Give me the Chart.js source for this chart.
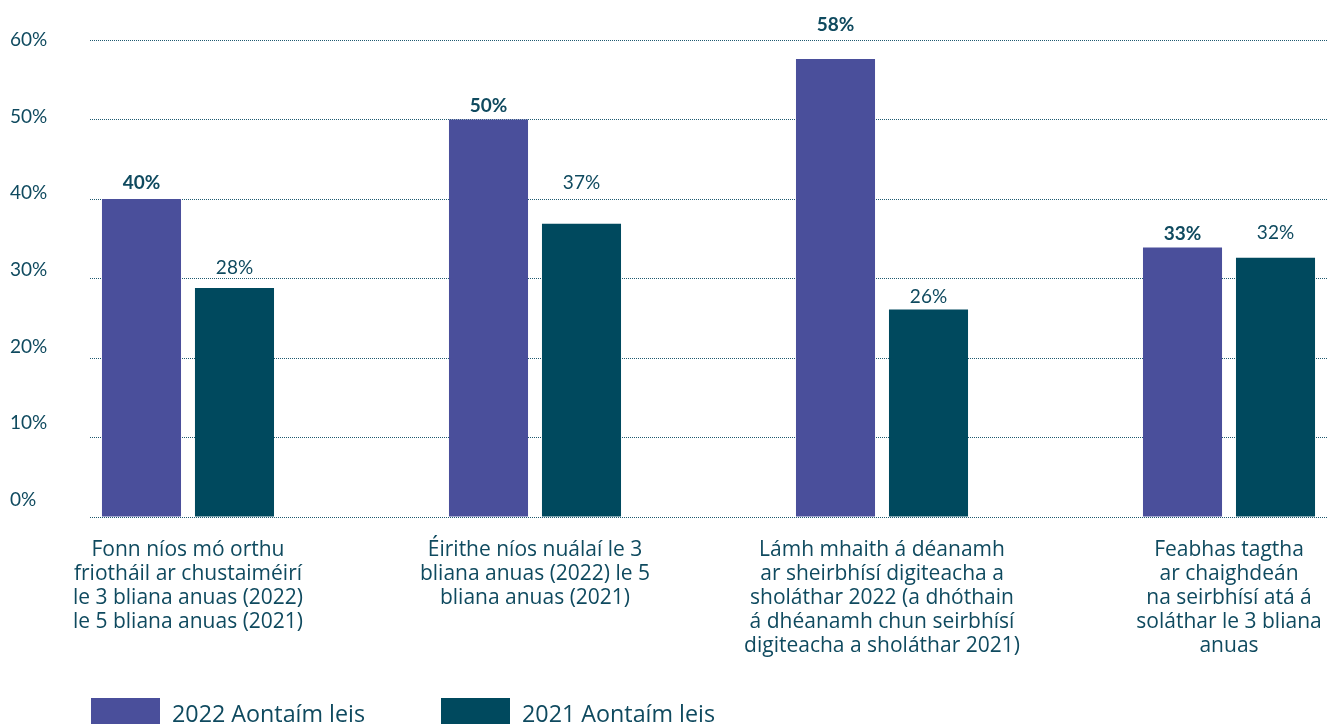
<!DOCTYPE html>
<html>
<head>
<meta charset="utf-8">
<script src="https://cdn.jsdelivr.net/npm/chart.js@4.4.1/dist/chart.umd.min.js"></script>
<style>
  html, body { margin: 0; padding: 0; background: #fff; overflow: hidden; }
  #wrap { position: relative; width: 1327px; height: 724px; }
  #legend { position: absolute; left: 91px; top: 698px; display: flex; font-family: "Open Sans", sans-serif; font-size: 23.3px; color: #0f4a5f; }
  #legend .item { display: flex; align-items: flex-start; }
  #legend .box { width: 69px; height: 30px; margin-right: 12px; }
  #legend .txt { line-height: 30px; }
</style>
</head>
<body>
<div id="wrap">
  <canvas id="myChart" width="1327" height="724"></canvas>
  <div id="legend"></div>
</div>
<script>
//the data
const categories = [
  ['Fonn níos mó orthu', 'friotháil ar chustaiméirí', 'le 3 bliana anuas (2022)', 'le 5 bliana anuas (2021)'],
  ['Éirithe níos nuálaí le 3', 'bliana anuas (2022) le 5', 'bliana anuas (2021)'],
  ['Lámh mhaith á déanamh', 'ar sheirbhísí digiteacha a', 'sholáthar 2022 (a dhóthain', 'á dhéanamh chun seirbhísí', 'digiteacha a sholáthar 2021)'],
  ['Feabhas tagtha', 'ar chaighdeán', 'na seirbhísí atá á', 'soláthar le 3 bliana', 'anuas']
]
const seriesNames = ['2022 Aontaím leis', '2021 Aontaím leis']
const values2022 = [40, 50, 57.6, 33.9]
const values2021 = [28.8, 36.9, 26.1, 32.6]
const labels2022 = ['40%', '50%', '58%', '33%']
const labels2021 = ['28%', '37%', '26%', '32%']
const yTicks = [0, 10, 20, 30, 40, 50, 60]

//colours and fonts
const purple = '#4a4f9b'
const teal = '#00495e'
const textColor = '#0f4a5f'
const numFont = 'Lato, sans-serif'
const textFont = '"Open Sans", sans-serif'

const ctx = document.getElementById('myChart').getContext('2d')

//labels above the bars
const barLabels = {
  id: 'barLabels',
  afterDatasetsDraw(chart, args, opts) {
    const c = chart.ctx
    c.save()
    c.textAlign = 'center'
    c.textBaseline = 'middle'
    c.fillStyle = textColor
    chart.data.datasets.forEach((ds, d) => {
      const meta = chart.getDatasetMeta(d)
      c.font = (d === 0 ? 'bold ' : '') + '19px ' + numFont
      meta.data.forEach((bar, i) => {
        c.fillText(opts.texts[d][i], bar.x, bar.y - opts.lift[d][i])
      })
    })
    c.restore()
  }
}

var chart = new Chart(ctx, {
  type: 'bar',
  data: {
    datasets: [{
      label: seriesNames[0],
      data: values2022.map((v, i) => ({ x: i, y: v })),
      backgroundColor: purple,
      yAxisID: 'y'
    }, {
      label: seriesNames[1],
      data: values2021.map((v, i) => ({ x: i, y: v })),
      backgroundColor: teal,
      yAxisID: 'y'
    }]
  },
  plugins: [barLabels],
  options: {
    responsive: false,
    animation: false,
    categoryPercentage: 0.536,
    barPercentage: 0.85,
    layout: { padding: { left: 10, top: 40, right: 0, bottom: 0 } },
    plugins: {
      legend: { display: false },
      tooltip: { enabled: false },
      barLabels: {
        texts: [labels2022, labels2021],
        lift: [[16, 14, 34, 14], [20, 41, 13, 25]]
      }
    },
    scales: {
      x: {
        type: 'linear',
        offset: false,
        min: -0.2824,
        max: 3.2824,
        grid: { display: false },
        border: { display: false },
        afterFit: (s) => {
          s.height = 207
          s.paddingLeft = 0
          s.paddingRight = 0
        },
        ticks: {
          stepSize: 1,
          includeBounds: false,
          autoSkip: false,
          maxRotation: 0,
          padding: 13,
          color: textColor,
          font: { family: textFont, size: 21, lineHeight: 1.143 },
          callback: (v) => categories[v] || ''
        }
      },
      yLabels: {
        type: 'linear',
        position: 'left',
        min: -2.22,
        max: 60,
        grid: { display: false },
        border: { display: false },
        afterFit: (s) => { s.width = 80 },
        afterBuildTicks: (s) => { s.ticks = yTicks.map(v => ({ value: v })) },
        ticks: {
          crossAlign: 'far',
          color: textColor,
          font: { family: numFont, size: 19 },
          callback: (v) => v + '%'
        }
      },
      y: {
        type: 'linear',
        position: 'left',
        min: 0,
        max: 60,
        afterFit: (s) => { s.width = 0 },
        border: { display: false, dash: [1, 1] },
        grid: { color: '#1f5a70', lineWidth: 1, drawTicks: false },
        ticks: { display: false, stepSize: 10 }
      }
    }
  }
})

//legend
const legend = document.getElementById('legend')
chart.data.datasets.forEach((ds, i) => {
  const item = document.createElement('div')
  item.className = 'item'
  item.style.width = i === 0 ? '350px' : 'auto'
  item.innerHTML = '<div class="box" style="background:' + ds.backgroundColor + '"></div><span class="txt">' + ds.label + '</span>'
  legend.appendChild(item)
})
</script>
</body>
</html>
